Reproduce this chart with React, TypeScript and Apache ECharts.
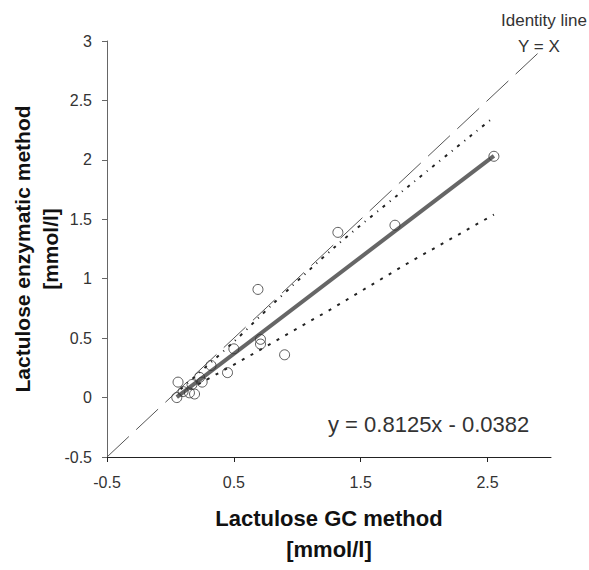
import React, { useEffect, useRef } from "react";
import * as echarts from "echarts";

const xTicks = [-0.5, 0.5, 1.5, 2.5];
const scatterPoints: [number, number][] = [
  [2.55, 2.03],
  [1.77, 1.45],
  [1.32, 1.39],
  [0.69, 0.91],
  [0.71, 0.45],
  [0.71, 0.49],
  [0.9, 0.36],
  [0.5, 0.41],
  [0.32, 0.27],
  [0.45, 0.21],
  [0.23, 0.17],
  [0.25, 0.13],
  [0.17, 0.11],
  [0.06, 0.13],
  [0.05, 0.0],
  [0.1, 0.05],
  [0.15, 0.04],
  [0.19, 0.03],
];
const identityLine: [number, number][] = [
  [-0.5, -0.5],
  [2.92, 2.92],
];
const regressionLine: [number, number][] = [
  [0.05, 0.003],
  [2.55, 2.034],
];
const upperBand: [number, number][] = [
  [0.08, 0.07],
  [0.5, 0.47],
  [0.8, 0.78],
  [1.31, 1.28],
  [1.81, 1.72],
  [2.55, 2.36],
];
const lowerBand: [number, number][] = [
  [0.08, 0.03],
  [0.54, 0.3],
  [1.26, 0.74],
  [1.87, 1.13],
  [2.55, 1.54],
];

export default function App() {
  const ref = useRef<HTMLDivElement>(null);
  useEffect(() => {
    if (!ref.current) return;
    const chart = echarts.init(ref.current, undefined, { renderer: "svg" });
    const font = "Liberation Sans, Arial, sans-serif";
    chart.setOption({
      animation: false,
      backgroundColor: "#fff",
      textStyle: { fontFamily: font },
      grid: { left: 105, top: 41, width: 446, height: 429, containLabel: false },
      xAxis: {
        type: "value",
        min: -0.5,
        max: 3,
        interval: 1,
        name: "Lactulose GC method\n[mmol/l]",
        nameLocation: "middle",
        nameGap: 46,
        nameMoveOverlap: false,
        nameTextStyle: {
          fontFamily: font,
          fontWeight: "bold",
          fontSize: 22,
          color: "#111",
          lineHeight: 31,
        },
        axisLine: { show: true, onZero: false, lineStyle: { color: "#222", width: 1 } },
        axisTick: {
          show: true,
          length: 5,
          customValues: xTicks,
          lineStyle: { color: "#222" },
        },
        axisLabel: {
          customValues: xTicks,
          fontSize: 16,
          color: "#333",
          margin: 17,
          fontFamily: font,
        },
        splitLine: { show: false },
      },
      yAxis: {
        type: "value",
        min: -0.5,
        max: 3,
        interval: 0.5,
        name: "Lactulose enzymatic method\n[mmol/l]",
        nameLocation: "middle",
        nameGap: 43,
        nameMoveOverlap: false,
        nameTextStyle: {
          fontFamily: font,
          fontWeight: "bold",
          fontSize: 21,
          color: "#111",
          lineHeight: 28,
        },
        axisLine: { show: true, onZero: false, lineStyle: { color: "#666", width: 1 } },
        axisTick: { show: true, length: 5, lineStyle: { color: "#666" } },
        axisLabel: { fontSize: 16, color: "#333", margin: 15, fontFamily: font },
        splitLine: { show: false },
      },
      series: [
        {
          type: "line",
          data: identityLine,
          symbol: "none",
          lineStyle: { color: "#555", width: 1, type: [30, 10] },
          z: 1,
        },
        {
          type: "line",
          data: upperBand,
          symbol: "none",
          smooth: 0.3,
          lineStyle: { color: "#222", width: 2, type: [3, 6, 1, 6] },
          z: 2,
        },
        {
          type: "line",
          data: lowerBand,
          symbol: "none",
          lineStyle: { color: "#222", width: 2, type: [3, 7] },
          z: 2,
        },
        {
          type: "line",
          data: regressionLine,
          symbol: "none",
          lineStyle: { color: "#666", width: 4 },
          z: 3,
        },
        {
          type: "scatter",
          data: scatterPoints,
          symbol: "circle",
          symbolSize: 10,
          itemStyle: { color: "rgba(255,255,255,0)", borderColor: "#333", borderWidth: 1 },
          z: 4,
        },
      ],
      graphic: [
        {
          type: "text",
          right: 2,
          top: 12,
          style: { text: "Identity line", fontSize: 17, fill: "#333", fontFamily: font },
        },
        {
          type: "text",
          left: 518,
          top: 38,
          style: { text: "Y = X", fontSize: 17, fill: "#333", fontFamily: font },
        },
        {
          type: "text",
          left: 328,
          top: 413,
          style: { text: "y = 0.8125x - 0.0382", fontSize: 22, fill: "#333", fontFamily: font },
        },
      ],
    });
    return () => chart.dispose();
  }, []);
  return (
    <div
      ref={ref}
      style={{ position: "fixed", left: 0, top: 0, width: 589, height: 570 }}
    />
  );
}
